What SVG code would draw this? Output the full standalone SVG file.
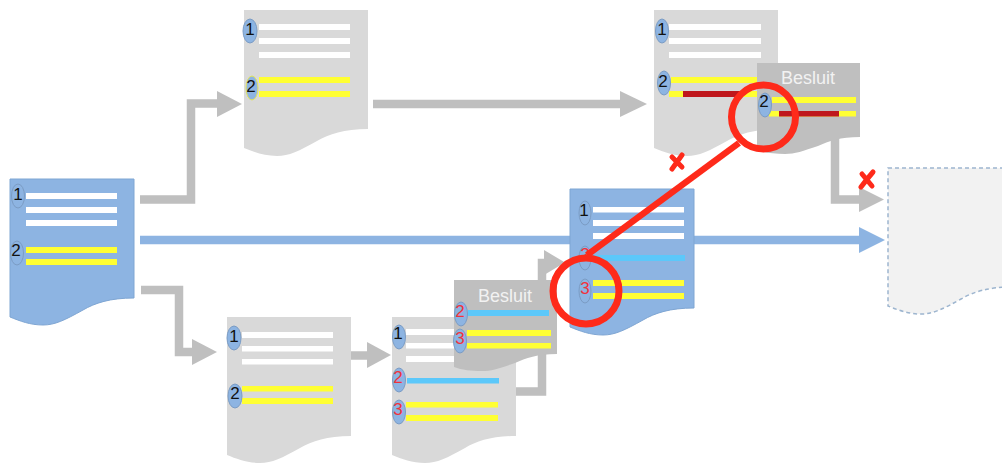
<svg xmlns="http://www.w3.org/2000/svg" width="1002" height="464" viewBox="0 0 1002 464">
<style>
text{font-family:"Liberation Sans",Arial,sans-serif}
.grey{fill:#d9d9d9}
.dark{fill:#bfbfbf}
.blue{fill:#8db4e2;stroke:#7fa6d3;stroke-width:1}
.final{fill:#f2f2f2;stroke:#9db5cf;stroke-width:1.5;stroke-dasharray:4 3}
.w{fill:#fff}
.y{fill:#ffff33}
.c{fill:#5cc8fa}
.r{fill:#bf171c}
.e{fill:#8db4e2;stroke:#7b9cc4;stroke-width:1}
.ey{fill:#8db4e2;stroke:#e3e45a;stroke-width:1}
.n{font-size:17px;fill:#111;text-anchor:middle}
.nr{font-size:17px;fill:#f0323c;text-anchor:middle}
.t{font-size:18px;fill:#f2f2f2;text-anchor:middle}
.cg{fill:none;stroke:#bfbfbf;stroke-width:8.5}
.cb{fill:none;stroke:#8db4e2;stroke-width:8.5}
.hg{fill:#bfbfbf}
.hb{fill:#8db4e2}
.ring{fill:none;stroke:#fe2a1a;stroke-width:7}
.x{fill:none;stroke:#fe2a1a;stroke-width:5;stroke-linecap:round}
</style>
<defs>
<path id="doc" d="M0 0H124V119C100 119 85 124 73 131C55 141 45 146 33 146C20 146 10 142 0 138Z"/>
<path id="bes" d="M0 0H103V74C83 74 72 78 61 83C46 88 38 91 28 91C17 91 8 90 0 87Z"/>
</defs>

<g id="connectors">
<path class="cg" d="M140 199.500H191V103.500H220"/>
<path class="hg" d="M217 91L242 104L217 117Z"/>
<path class="cg" d="M373 104H622"/>
<path class="hg" d="M620 91L647 104L620 117Z"/>
<path class="cb" d="M140 240H862"/>
<path class="hb" d="M859 227L885 240L859 253Z"/>
<path class="cg" d="M141 290H179V352H194"/>
<path class="hg" d="M192 339L217 352L192 365Z"/>
<path class="cg" d="M351 355.500H369"/>
<path class="hg" d="M367 342L391 355L367 368Z"/>
<path class="cg" d="M510 391.500H542V263H546"/>
<path class="hg" d="M544 250L565 262.500L544 275Z"/>
<path class="cg" d="M835 130V199.500H861"/>
<path class="hg" d="M859 187L884 199.500L859 212Z"/>
</g>

<g id="doc-source">
<use href="#doc" x="10" y="179" class="blue"/>
<rect class="w" x="26" y="193" width="91" height="6"/><rect class="w" x="26" y="207" width="91" height="6"/><rect class="w" x="26" y="220" width="91" height="6"/>
<rect class="y" x="26" y="247" width="91" height="6"/><rect class="y" x="26" y="259" width="91" height="6"/>
<ellipse class="e" cx="18" cy="196" rx="6.500" ry="12"/><text class="n" x="18" y="200">1</text>
<ellipse class="e" cx="17" cy="253" rx="6.500" ry="12"/><text class="n" x="16" y="256">2</text>
</g>

<g id="doc-top-left">
<use href="#doc" x="244" y="10" class="grey"/>
<rect class="w" x="259" y="24" width="91" height="6"/><rect class="w" x="259" y="38" width="91" height="6"/><rect class="w" x="259" y="52" width="91" height="6"/>
<rect class="y" x="259" y="77" width="91" height="6"/><rect class="y" x="259" y="91" width="91" height="6"/>
<ellipse class="e" cx="250" cy="31" rx="7" ry="12"/><text class="n" x="250" y="35">1</text>
<ellipse class="ey" cx="252" cy="88" rx="6" ry="12"/><text class="n" x="251" y="92">2</text>
</g>

<g id="doc-top-right">
<use href="#doc" x="654" y="10" class="grey"/>
<rect class="w" x="669" y="24" width="92" height="6"/><rect class="w" x="669" y="38" width="92" height="6"/><rect class="w" x="669" y="52" width="92" height="6"/>
<rect class="y" x="671" y="77" width="90" height="6"/><rect class="y" x="669" y="91" width="90" height="6"/>
<rect class="r" x="683" y="91" width="57" height="6"/>
<ellipse class="e" cx="662" cy="31" rx="6.500" ry="12"/><text class="n" x="662" y="35">1</text>
<ellipse class="e" cx="664" cy="83" rx="6.500" ry="12"/><text class="n" x="663" y="87">2</text>
</g>

<g id="besluit-top">
<use href="#bes" x="757" y="63" class="dark"/>
<text class="t" x="808" y="84">Besluit</text>
<rect class="y" x="772" y="97" width="84" height="6"/><rect class="y" x="769" y="111" width="87" height="5.500"/>
<rect class="r" x="779" y="111" width="60" height="5.500"/>
<ellipse class="e" cx="765" cy="105" rx="6.500" ry="12"/><text class="n" x="764" y="107">2</text>
</g>

<g id="doc-merged">
<use href="#doc" x="570" y="189" class="blue"/>
<rect class="w" x="593" y="207" width="91" height="5.500"/><rect class="w" x="593" y="220" width="91" height="6"/><rect class="w" x="593" y="233" width="91" height="6"/>
<rect class="c" x="593" y="255" width="92" height="6"/>
<rect class="y" x="593" y="280" width="91" height="6"/><rect class="y" x="593" y="293" width="91" height="6"/>
<ellipse class="e" cx="585" cy="213" rx="6" ry="12"/><text class="n" x="584" y="216">1</text>
<ellipse class="e" cx="585" cy="258" rx="6" ry="12"/><text class="nr" x="585" y="260">2</text>
<ellipse class="e" cx="585" cy="291" rx="6" ry="12"/><text class="nr" x="585" y="294">3</text>
</g>

<g id="doc-bottom-left">
<use href="#doc" x="227" y="317" class="grey"/>
<rect class="w" x="242" y="332" width="91" height="6"/><rect class="w" x="242" y="346" width="91" height="5.500"/><rect class="w" x="242" y="359" width="91" height="5.500"/>
<rect class="y" x="242" y="386" width="91" height="5.500"/><rect class="y" x="242" y="398" width="91" height="6"/>
<ellipse class="e" cx="234" cy="338" rx="7" ry="12"/><text class="n" x="234" y="342">1</text>
<ellipse class="e" cx="235" cy="396" rx="7" ry="12"/><text class="n" x="235" y="399">2</text>
</g>

<g id="doc-bottom-mid">
<use href="#doc" x="392" y="317" class="grey"/>
<rect class="w" x="406" y="329" width="91" height="6"/><rect class="w" x="406" y="343" width="91" height="5.500"/><rect class="w" x="406" y="356" width="91" height="6"/>
<rect class="c" x="407" y="378" width="92" height="5.500"/>
<rect class="y" x="406" y="402" width="92" height="5.500"/><rect class="y" x="406" y="415" width="92" height="6"/>
<ellipse class="e" cx="399" cy="337" rx="6.500" ry="12"/><text class="n" x="398" y="339">1</text>
<ellipse class="e" cx="399" cy="380" rx="6.500" ry="12"/><text class="nr" x="398" y="383">2</text>
<ellipse class="e" cx="399" cy="412" rx="6.500" ry="12"/><text class="nr" x="398" y="415">3</text>
</g>

<g id="besluit-bottom">
<use href="#bes" x="454" y="280" class="dark"/>
<text class="t" x="505" y="302">Besluit</text>
<rect class="c" x="468" y="310" width="81" height="6"/>
<rect class="y" x="467" y="330" width="84" height="6"/><rect class="y" x="467" y="343" width="84" height="5.500"/>
<ellipse class="e" cx="461" cy="314" rx="6.500" ry="12"/><text class="nr" x="460" y="317">2</text>
<ellipse class="e" cx="460" cy="341" rx="6.500" ry="12"/><text class="nr" x="460" y="344">3</text>
</g>

<g id="doc-final">
<use href="#doc" x="888" y="168" class="final"/>
</g>

<g id="annotations">
<path d="M739 143L587 255" fill="none" stroke="#fe2a1a" stroke-width="6.500"/>
<circle class="ring" cx="763.500" cy="117" r="32"/>
<circle class="ring" cx="586" cy="291" r="33"/>
<path class="x" d="M672 169Q677 162 682 155M672 157L682 167"/>
<path class="x" d="M861 187Q867 179 873 172M862 174L872 186"/>
</g>
</svg>
